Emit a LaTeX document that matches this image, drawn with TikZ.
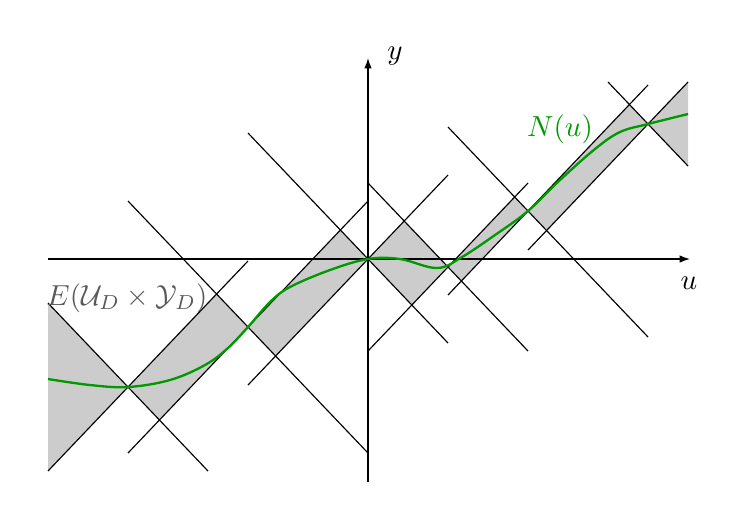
\documentclass[tikz,border=0pt]{standalone}
\usetikzlibrary{arrows.meta}
\begin{document}
\begin{tikzpicture}[x=0.345pt,y=-0.345pt,
  cone/.style={black,line width=0.4pt},
  band/.style={fill=black!20,draw=none},
  axis/.style={black,line width=0.45pt,-{Latex[length=3.6pt,width=2.6pt]}},
  curve/.style={green!60!black,line width=0.8pt},
  lbl/.style={inner sep=0pt}]
\useasboundingbox (0,0) rectangle (747,524);
% data points
\coordinate (P1) at (128,387);
\coordinate (P2) at (248,327);
\coordinate (P3) at (368,259);
\coordinate (P4) at (448,267);
\coordinate (P5) at (528,211);
\coordinate (P6) at (648,124);
% down-right lines
\coordinate (D1a) at (48,303);  \coordinate (D1b) at (208,471);
\coordinate (D2a) at (128,201); \coordinate (D2b) at (368,453);
\coordinate (D3a) at (248,133); \coordinate (D3b) at (448,343);
\coordinate (D4a) at (368,183); \coordinate (D4b) at (528,351);
\coordinate (D5a) at (448,127); \coordinate (D5b) at (648,337);
\coordinate (D6a) at (608,82);  \coordinate (D6b) at (688,166);
% up-right lines
\coordinate (U1a) at (48,471);  \coordinate (U1b) at (248,261);
\coordinate (U2a) at (128,453); \coordinate (U2b) at (368,201);
\coordinate (U3a) at (248,385); \coordinate (U3b) at (448,175);
\coordinate (U4a) at (368,351); \coordinate (U4b) at (528,183);
\coordinate (U5a) at (448,295); \coordinate (U5b) at (648,85);
\coordinate (U6a) at (528,250); \coordinate (U6b) at (688,82);
% shaded regions
\fill[band] (D1a) -- (P1) -- (U1a) -- cycle;
\fill[band] (P1) -- (intersection of U1a--U1b and D2a--D2b) -- (P2)
  -- (intersection of D1a--D1b and U2a--U2b) -- cycle;
\fill[band] (P2) -- (intersection of U2a--U2b and D3a--D3b) -- (P3)
  -- (intersection of D2a--D2b and U3a--U3b) -- cycle;
\fill[band] (P3) -- (intersection of U3a--U3b and D4a--D4b) -- (P4)
  -- (intersection of D3a--D3b and U4a--U4b) -- cycle;
\fill[band] (P4) -- (intersection of U4a--U4b and D5a--D5b) -- (P5)
  -- (intersection of D4a--D4b and U5a--U5b) -- cycle;
\fill[band] (P5) -- (intersection of U5a--U5b and D6a--D6b) -- (P6)
  -- (intersection of D5a--D5b and U6a--U6b) -- cycle;
\fill[band] (P6) -- (U6b) -- (D6b) -- cycle;
% cone lines
\foreach \i in {1,...,6}{
  \draw[cone] (D\i a) -- (D\i b);
  \draw[cone] (U\i a) -- (U\i b);
}
% axes
\coordinate (xs) at (48,259);  \coordinate (xe) at (690,259);
\coordinate (ys) at (368,482); \coordinate (ye) at (368,58);
\draw[axis] (xs) -- (xe);
\draw[axis] (ys) -- (ye);
\node[lbl] (ylab) at (395,56) {$y$};
\node[lbl] (ulab) at (689,283) {$u$};
% curve
\draw[curve] plot[smooth,tension=0.6] coordinates {
 (48,379) (90,385) (128,387) (170,380) (205,365) (228,348) (248,327)
 (270,302) (290,287) (330,270) (368,259) (400,259) (437,268) (462,257)
 (495,235) (528,211) (560,180) (595,149) (620,132) (648,124) (688,114)};
\node[lbl,text=green!60!black] (nlab) at (560,129) {$N(u)$};
\node[lbl,text=black!65] (elab) at (127,298) {$E(\mathcal{U}_D\times\mathcal{Y}_D)$};
\end{tikzpicture}
\end{document}
